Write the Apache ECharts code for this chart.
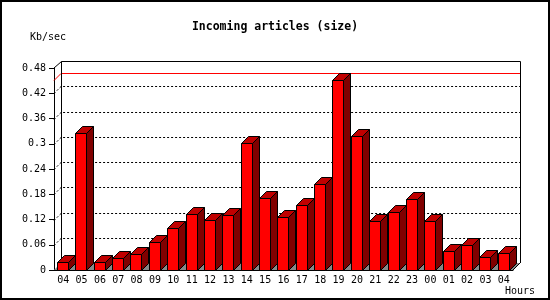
<!DOCTYPE html>
<html>
<head>
<meta charset="utf-8">
<script src="https://cdn.jsdelivr.net/npm/echarts@6/dist/echarts.min.js"></script>
<style>html,body{margin:0;padding:0;background:#fff}#c{width:550px;height:300px}</style>
</head>
<body>
<div id="c"></div>
<script>
var hours = ['04','05','06','07','08','09','10','11','12','13','14','15','16','17','18','19','20','21','22','23','00','01','02','03','04'];
var kbPerSec = [0.020,0.325,0.018,0.028,0.037,0.066,0.099,0.132,0.120,0.130,0.301,0.170,0.125,0.154,0.204,0.451,0.318,0.116,0.139,0.168,0.116,0.044,0.059,0.030,0.040];
var yTicks = [0,0.06,0.12,0.18,0.24,0.30,0.36,0.42,0.48];
var titleText = 'Incoming articles (size)';
var yName = 'Kb/sec';
var xName = 'Hours';

var DX = 7, DY = 7;
var FONT = 'DejaVu Sans Mono';
var maxVal = Math.max.apply(null, kbPerSec);

var chart = echarts.init(document.getElementById('c'), null, {renderer: 'canvas'});

function frameItem(params, api) {
  var cs = params.coordSys;
  var L = cs.x, R = cs.x + cs.width, T = cs.y, B = cs.y + cs.height;
  var ch = [];
  ch.push({type: 'polygon', shape: {points: [[L, B], [R, B], [R + DX, B - DY], [L + DX, B - DY]]},
    style: {fill: '#888888', stroke: null}});
  for (var i = 1; i < yTicks.length - 1; i++) {
    var y = Math.round(api.coord([0, yTicks[i]])[1]) + 0.5;
    ch.push({type: 'polyline', shape: {points: [[L, y], [L + DX, y - DY], [R + DX, y - DY]]},
      style: {stroke: '#000', lineWidth: 1, lineDash: [2, 2], fill: null}});
  }
  var ym = Math.round(api.coord([0, maxVal])[1]) + 0.5;
  ch.push({type: 'line', shape: {x1: L, y1: ym, x2: L + DX, y2: ym - DY},
    style: {stroke: '#ff0000', lineWidth: 1}});
  ch.push({type: 'line', shape: {x1: L + DX, y1: ym - DY, x2: R + DX, y2: ym - DY},
    style: {stroke: '#ff0000', lineWidth: 1}});
  var bl = L + DX + 0.5, br = R + DX + 0.5, bt = T - DY + 0.5, bb = B - DY;
  ch.push({type: 'polyline', shape: {points: [[L, T], [bl, bt], [br, bt], [br, bb]]},
    style: {stroke: '#000', lineWidth: 1, fill: null}});
  ch.push({type: 'line', shape: {x1: bl, y1: bt, x2: bl, y2: bb},
    style: {stroke: '#000', lineWidth: 1}});
  ch.push({type: 'line', shape: {x1: R, y1: B, x2: R + DX, y2: B - DY},
    style: {stroke: '#000', lineWidth: 1}});
  return {type: 'group', children: ch};
}

function barItem(params, api) {
  var idx = api.value(0), v = api.value(1);
  var p = api.coord([idx, v]);
  var b = api.coord([idx, 0]);
  var bw = api.size([1, 0])[0];
  var x0 = Math.round(p[0] - bw / 2 + bw * 0.165) + 0.5;
  var w = Math.round(bw * 0.6);
  var x1 = x0 + w;
  var yt = Math.round(p[1]) + 0.5, yb = Math.round(b[1]) + 0.5;
  var st = {stroke: '#000', lineWidth: 1};
  return {type: 'group', children: [
    {type: 'polygon', shape: {points: [[x1, yt], [x1 + DX, yt - DY], [x1 + DX, yb - DY], [x1, yb]]},
      style: Object.assign({fill: '#800000'}, st)},
    {type: 'polygon', shape: {points: [[x0, yt], [x0 + DX, yt - DY], [x1 + DX, yt - DY], [x1, yt]]},
      style: Object.assign({fill: '#c00000'}, st)},
    {type: 'rect', shape: {x: x0, y: yt, width: w, height: yb - yt},
      style: Object.assign({fill: '#ff0000'}, st)}
  ]};
}

var option = {
  animation: false,
  backgroundColor: '#fff',
  title: {text: titleText, left: 'center', top: 21, padding: 0,
    textStyle: {fontFamily: FONT, fontWeight: 'bold', fontSize: 11.5, color: '#000'}},
  grid: {left: 54, right: 37, top: 68, bottom: 30},
  xAxis: {type: 'category', data: hours, boundaryGap: true,
    axisLine: {lineStyle: {color: '#000', width: 1}},
    axisTick: {length: 4, lineStyle: {color: '#000'}, interval: 0},
    axisLabel: {interval: 0, margin: 5, color: '#000', fontFamily: FONT, fontSize: 10},
    splitLine: {show: false}},
  yAxis: {type: 'value', min: 0, max: 0.48, interval: 0.06,
    axisLine: {show: true, lineStyle: {color: '#000', width: 1}},
    axisTick: {show: true, length: 5, lineStyle: {color: '#000'}},
    axisLabel: {margin: 8, color: '#000', fontFamily: FONT, fontSize: 10},
    splitLine: {show: false}},
  graphic: [
    {type: 'rect', shape: {x: 1, y: 1, width: 548, height: 298}, style: {fill: null, stroke: '#000', lineWidth: 2}, z: 100},
    {type: 'text', left: 30, top: 32, style: {text: yName, fontFamily: FONT, fontSize: 10, fill: '#000'}},
    {type: 'text', left: 505, top: 286, style: {text: xName, fontFamily: FONT, fontSize: 10, fill: '#000'}}
  ],
  series: [
    {type: 'custom', renderItem: frameItem, data: [[0, 0]], clip: false, z: 1, silent: true},
    {type: 'custom', renderItem: barItem, clip: false, z: 2,
      data: kbPerSec.map(function (v, i) { return [i, v]; })}
  ]
};
chart.setOption(option);
</script>
</body>
</html>
